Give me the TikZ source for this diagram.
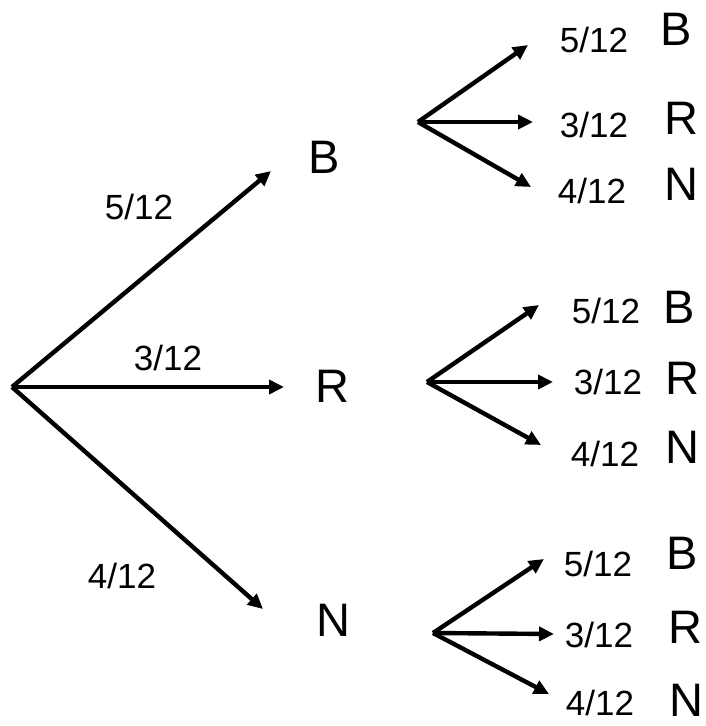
\documentclass[tikz,border=0pt]{standalone}
\usepackage{fontspec}
\newfontfamily\lettfont{Liberation Sans}
\newfontfamily\fracfont{Liberation Sans}
\usetikzlibrary{arrows.meta}
\begin{document}
\begin{tikzpicture}[x=1pt,y=-1pt,
  arr/.style={line width=4.4pt,-{Triangle[length=15pt,width=14pt]}},
  lett/.style={font=\fontsize{47}{47}\selectfont\lettfont, inner sep=0},
  frac/.style={font=\fontsize{35}{35}\selectfont\fracfont, inner sep=0}]
\useasboundingbox (0,0) rectangle (705,726);
% root and first level
\coordinate (root) at (12,387);
\coordinate (tB) at (271,171);
\coordinate (tR) at (284,387);
\coordinate (tN) at (263,609);
\node[lett] (B) at (324,157) {B};
\node[lett] (R) at (332,386) {R};
\node[lett] (N) at (333,620) {N};
\node[frac] (fB) at (139,207) {5/12};
\node[frac] (fR) at (168,358) {3/12};
\node[frac] (fN) at (122,576) {4/12};
\draw[arr] (root) -- (tB);
\draw[arr] (root) -- (tR);
\draw[arr] (root) -- (tN);
% group B
\coordinate (gB) at (418,122);
\coordinate (gBb) at (528,45);
\coordinate (gBr) at (533,122);
\coordinate (gBn) at (531,187);
\draw[arr] (gB) -- (gBb);
\draw[arr] (gB) -- (gBr);
\draw[arr] (gB) -- (gBn);
\node[frac] (fBB) at (594,40) {5/12};
\node[frac] (fBR) at (594,125) {3/12};
\node[frac] (fBN) at (592,191) {4/12};
\node[lett] (BB) at (676,29) {B};
\node[lett] (BR) at (681,118) {R};
\node[lett] (BN) at (681,184) {N};
% group R
\coordinate (gR) at (427,382);
\coordinate (gRb) at (539,305);
\coordinate (gRr) at (553,382);
\coordinate (gRn) at (541,445);
\draw[arr] (gR) -- (gRb);
\draw[arr] (gR) -- (gRr);
\draw[arr] (gR) -- (gRn);
\node[frac] (fRB) at (606,311) {5/12};
\node[frac] (fRR) at (608,382) {3/12};
\node[frac] (fRN) at (605,454) {4/12};
\node[lett] (RB) at (679,307) {B};
\node[lett] (RR) at (682,378) {R};
\node[lett] (RN) at (682,447) {N};
% group N
\coordinate (gN) at (433,633);
\coordinate (gNb) at (544,559);
\coordinate (gNr) at (554,634);
\coordinate (gNn) at (549,694);
\draw[arr] (gN) -- (gNb);
\draw[arr] (gN) -- (gNr);
\draw[arr] (gN) -- (gNn);
\node[frac] (fNB) at (598,564) {5/12};
\node[frac] (fNR) at (599,635) {3/12};
\node[frac] (fNN) at (600,703) {4/12};
\node[lett] (NB) at (682,553) {B};
\node[lett] (NR) at (685,627) {R};
\node[lett] (NN) at (686,700) {N};
\end{tikzpicture}
\end{document}
